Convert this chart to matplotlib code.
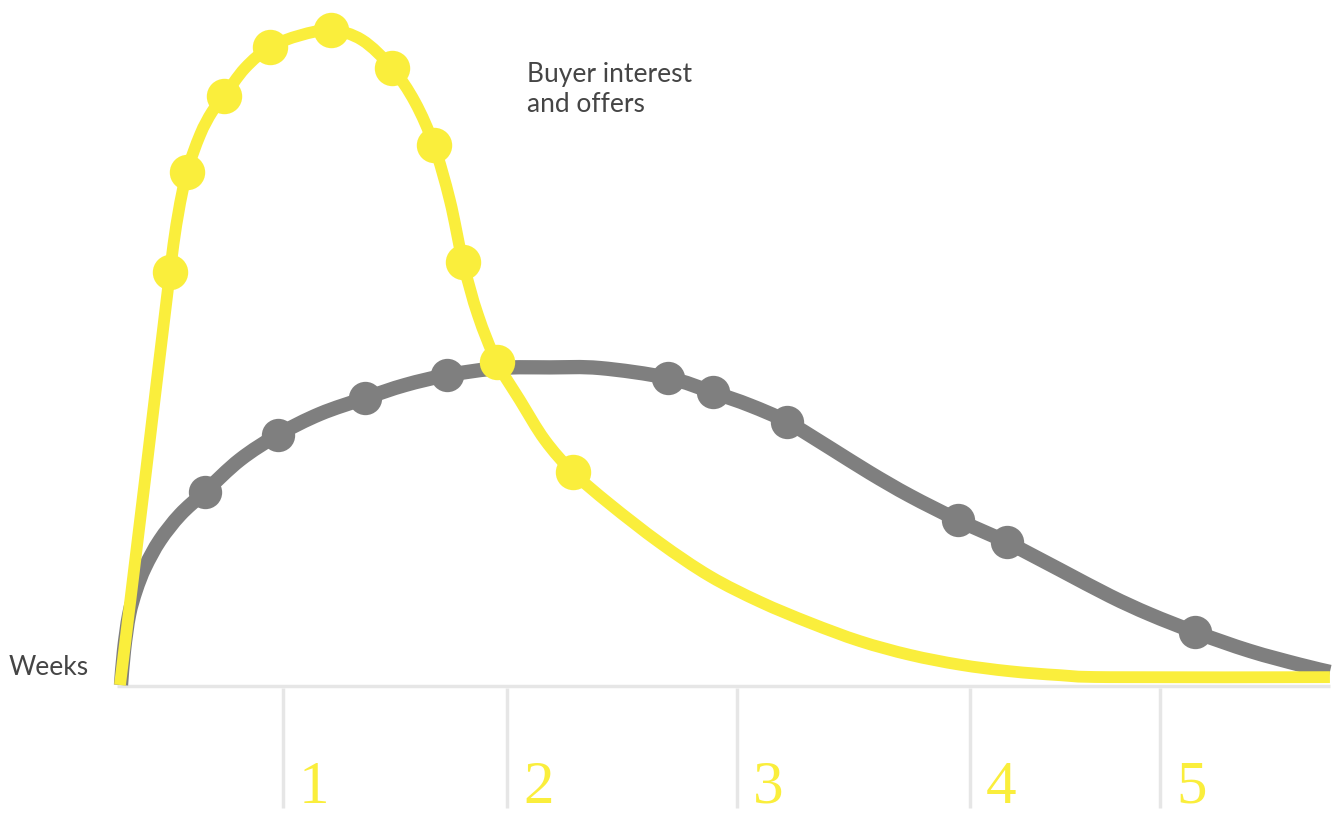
import matplotlib
matplotlib.use("Agg")
import matplotlib.pyplot as plt
from matplotlib.path import Path
from matplotlib.patches import PathPatch

# ---- data (x in weeks, y in relative interest units 0-100) ----
yellow_line_x = [0.0, 0.124, 0.248, 0.288, 0.332, 0.397, 0.456, 0.516, 0.620, 0.744,
                 0.893, 1.046, 1.200, 1.349, 1.463, 1.557, 1.636, 1.701, 1.775, 1.869,
                 1.983, 2.107, 2.246, 2.430, 2.678, 2.926, 3.174, 3.421, 3.669, 3.917,
                 4.165, 4.413, 4.661, 4.909, 6.0]
yellow_line_y = [0.0, 31.3, 63.1, 71.8, 78.3, 84.0, 87.5, 89.9, 94.2, 97.4,
                 99.2, 100.0, 98.5, 94.2, 89.0, 82.4, 74.0, 64.6, 56.5, 49.3,
                 43.5, 37.4, 32.5, 27.6, 21.7, 16.6, 12.7, 9.5, 6.7, 4.6,
                 3.1, 2.1, 1.5, 1.2, 1.2]
yellow_pts_x = [0.248, 0.332, 0.516, 0.744, 1.046, 1.349, 1.557, 1.701, 1.869, 2.246]
yellow_pts_y = [63.1, 78.3, 89.9, 97.4, 100.0, 94.2, 82.4, 64.6, 49.3, 32.5]

gray_line_x = [0.005, 0.020, 0.045, 0.079, 0.124, 0.198, 0.298, 0.421, 0.595, 0.783,
               0.992, 1.215, 1.413, 1.621, 1.884, 2.132, 2.380, 2.717, 2.940, 3.124,
               3.307, 3.521, 3.719, 3.917, 4.155, 4.398, 4.661, 4.909, 5.107, 5.330,
               5.603, 5.851, 6.0]
gray_line_y = [0.0, 5.3, 10.7, 14.5, 18.0, 22.1, 26.0, 29.5, 34.4, 38.2,
               41.4, 43.8, 45.8, 47.3, 48.4, 48.5, 48.4, 46.9, 44.7, 42.7,
               40.2, 36.2, 32.4, 28.9, 25.2, 21.8, 17.6, 13.6, 10.8, 8.1,
               5.2, 3.1, 2.0]
gray_pts_x = [0.421, 0.783, 1.215, 1.621, 2.717, 2.940, 3.307, 4.155, 4.398, 5.330]
gray_pts_y = [29.5, 38.2, 43.8, 47.3, 46.9, 44.7, 40.2, 25.2, 21.8, 8.1]

week_ticks = [0.808, 1.919, 3.059, 4.215, 5.157]
week_labels = ["1", "2", "3", "4", "5"]

YELLOW = "#FAEE3C"
GRAY = "#7F7F7F"
AXIS = "#E6E6E6"
TEXT = "#454545"


def smooth_path(xs, ys):
    """Bezier path through the given points (Catmull-Rom tangents), drawn by matplotlib."""
    pts = list(zip(xs, ys))
    verts = [pts[0]]
    codes = [Path.MOVETO]
    n = len(pts)
    for i in range(n - 1):
        p0 = pts[i - 1] if i > 0 else pts[i]
        p1 = pts[i]
        p2 = pts[i + 1]
        p3 = pts[i + 2] if i + 2 < n else pts[i + 1]
        c1 = (p1[0] + (p2[0] - p0[0]) / 6.0, p1[1] + (p2[1] - p0[1]) / 6.0)
        c2 = (p2[0] - (p3[0] - p1[0]) / 6.0, p2[1] - (p3[1] - p1[1]) / 6.0)
        verts += [c1, c2, p2]
        codes += [Path.CURVE4] * 3
    return Path(verts, codes)


fig = plt.figure(figsize=(13.39, 8.15), dpi=100)
ax = fig.add_axes([0, 0, 1, 1])
ax.set_xlim(-0.595, 6.045)
ax.set_ylim(-19.85, 104.6)
ax.axis("off")

# axis baseline and week ticks
ax.plot([-0.015, 6.0], [-0.15, -0.15], color=AXIS, lw=2.5, solid_capstyle="butt", zorder=1)
for t, lab in zip(week_ticks, week_labels):
    ax.plot([t, t], [-0.5, -18.8], color=AXIS, lw=2.5, solid_capstyle="butt", zorder=1)
    ax.text(t + 0.08, -18.0, lab, color=YELLOW, fontsize=44,
            family="Liberation Serif", ha="left", va="baseline")

# gray series
ax.add_patch(PathPatch(smooth_path(gray_line_x, gray_line_y), facecolor="none",
                       edgecolor=GRAY, lw=10.3, capstyle="butt", joinstyle="round",
                       zorder=2, clip_on=False))
ax.plot(gray_pts_x, gray_pts_y, "o", color=GRAY, markersize=24, markeredgewidth=0,
        zorder=3, clip_on=False)

# yellow series
ax.add_patch(PathPatch(smooth_path(yellow_line_x, yellow_line_y), facecolor="none",
                       edgecolor=YELLOW, lw=8.5, capstyle="butt", joinstyle="round",
                       zorder=4, clip_on=False))
ax.plot(yellow_pts_x, yellow_pts_y, "o", color=YELLOW, markersize=25.5, markeredgewidth=0,
        zorder=5, clip_on=False)

# texts
ax.text(-0.55, 2.6, "Weeks", color=TEXT, fontsize=19, family="Lato",
        ha="left", va="center")
ax.text(2.02, 95.2, "Buyer interest\nand offers", color=TEXT, fontsize=19,
        family="Lato", ha="left", va="top", linespacing=1.25)

fig.savefig("out.png", dpi=100)
